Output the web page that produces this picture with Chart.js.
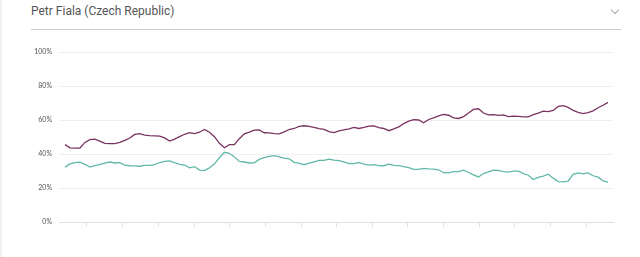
<!DOCTYPE html>
<html>
<head>
<meta charset="utf-8">
<script src="https://cdn.jsdelivr.net/npm/chart.js@4.4.1/dist/chart.umd.min.js"></script>
<style>
    html, body { margin: 0; padding: 0; background: #fff; }
    body { width: 640px; height: 257px; position: relative; overflow: hidden; border-left: 2px solid #f0f0f0; box-sizing: border-box; }
    .title { position: absolute; left: 29px; top: 4px; font: 12px Roboto, Arial, sans-serif; color: #555; }
    .chevron { position: absolute; left: 610px; top: 7px; width: 5px; height: 5px; border-right: 1px solid #aaa; border-bottom: 1px solid #aaa; transform: rotate(45deg); }
    .rule { position: absolute; left: 29px; top: 29px; width: 590px; height: 1px; background: #ccc; }
    #chart { position: absolute; left: -2px; top: 0; }
</style>
</head>
<body>
<div class="title">Petr Fiala (Czech Republic)</div>
<div class="chevron"></div>
<div class="rule"></div>
<canvas id="chart" width="640" height="257"></canvas>
<script>
// Approval tracker values, one point every few days, oldest first
const disapprove = [
    45.5, 43.6, 43.5, 43.5, 46.8, 48.4, 48.7, 47.6, 46.2, 46.1,
    46.1, 46.8, 48.0, 49.4, 51.5, 52.0, 51.1, 50.8, 50.7, 50.5,
    49.5, 47.6, 48.8, 50.2, 51.6, 52.6, 52.0, 52.8, 54.4, 52.8,
    50.2, 46.3, 43.7, 45.5, 45.5, 49.0, 51.9, 52.9, 54.0, 54.2,
    52.5, 52.4, 52.0, 51.8, 53.0, 54.4, 55.0, 56.2, 56.6, 56.2,
    55.6, 54.9, 54.5, 53.2, 52.6, 53.6, 54.2, 54.8, 55.6, 55.0,
    55.6, 56.4, 56.5, 55.5, 55.0, 53.7, 54.8, 56.0, 57.9, 59.3,
    60.2, 60.0, 58.4, 60.3, 61.3, 62.4, 63.3, 62.8, 61.3, 60.9,
    62.0, 64.1, 66.2, 66.6, 64.1, 63.0, 63.1, 62.7, 63.0, 62.0,
    62.3, 62.1, 61.8, 61.8, 63.1, 64.1, 65.2, 64.9, 65.6, 68.0,
    68.5, 67.4, 65.6, 64.5, 63.8, 64.4, 65.4, 67.2, 68.7, 70.4
];
const approve = [
    32.3, 34.2, 34.9, 35.2, 33.9, 32.3, 33.1, 33.9, 34.7, 35.3,
    34.7, 34.9, 33.5, 33.1, 33.0, 32.8, 33.3, 33.3, 33.7, 35.0,
    35.6, 36.0, 34.9, 33.9, 33.5, 31.9, 32.6, 30.5, 30.2, 31.8,
    34.2, 37.8, 41.0, 40.4, 38.3, 35.6, 35.3, 34.7, 34.8, 36.8,
    37.8, 38.6, 39.0, 38.3, 37.6, 37.2, 35.1, 34.5, 33.7, 34.6,
    35.3, 36.2, 36.2, 37.0, 36.4, 36.1, 35.3, 34.4, 34.3, 35.0,
    34.0, 33.5, 33.8, 33.2, 33.1, 34.0, 33.3, 33.2, 32.6, 32.0,
    30.9, 30.9, 31.5, 31.2, 31.1, 30.7, 29.0, 28.9, 29.6, 29.6,
    30.5, 29.1, 27.7, 26.5, 28.5, 29.5, 30.5, 30.3, 29.6, 29.3,
    29.9, 29.9, 28.5, 27.5, 25.0, 26.2, 27.0, 28.1, 25.8, 23.8,
    23.6, 24.1, 28.0, 28.9, 28.3, 28.9, 27.2, 26.4, 24.2, 23.4
];
// month boundaries, in point index units
const monthTicks = [4.4, 11.6, 18.7, 25.9, 33.0, 40.2, 47.4, 54.5, 61.7, 68.8, 76.0, 83.2, 90.3, 97.5, 104.6];
const yTicks = [0, 20, 40, 60, 80, 100];

const toPoints = arr => arr.map((v, i) => ({ x: i, y: v }));

new Chart(document.getElementById('chart'), {
    type: 'line',
    data: {
        datasets: [
            {
                label: 'Disapprove',
                data: toPoints(disapprove),
                borderColor: '#7a3361',
                borderWidth: 1.3,
                pointRadius: 0,
                tension: 0
            },
            {
                label: 'Approve',
                data: toPoints(approve),
                borderColor: '#62b8a8',
                borderWidth: 1.3,
                pointRadius: 0,
                tension: 0
            }
        ]
    },
    options: {
        responsive: false,
        animation: false,
        events: [],
        layout: { padding: { top: 52, right: 27, bottom: 0, left: 0 } },
        plugins: { legend: { display: false }, tooltip: { enabled: false } },
        scales: {
            x: {
                type: 'linear',
                min: -1.2,
                max: 110,
                afterBuildTicks: scale => { scale.ticks = monthTicks.map(v => ({ value: v })); },
                afterFit: scale => { scale.height = 35; },
                ticks: { display: false },
                grid: { drawOnChartArea: false, drawTicks: true, tickLength: 5, color: '#e2e2e2' },
                border: { display: true, color: '#e0e0e0' }
            },
            y: {
                min: 0,
                max: 100,
                afterBuildTicks: scale => { scale.ticks = yTicks.map(v => ({ value: v })); },
                afterFit: scale => { scale.width = 59; },
                ticks: {
                    padding: 7,
                    color: '#555',
                    font: { family: 'Lato', size: 7 },
                    callback: v => v + '%'
                },
                grid: { drawTicks: false, color: '#efefef' },
                border: { display: false }
            }
        }
    }
});
</script>
</body>
</html>
